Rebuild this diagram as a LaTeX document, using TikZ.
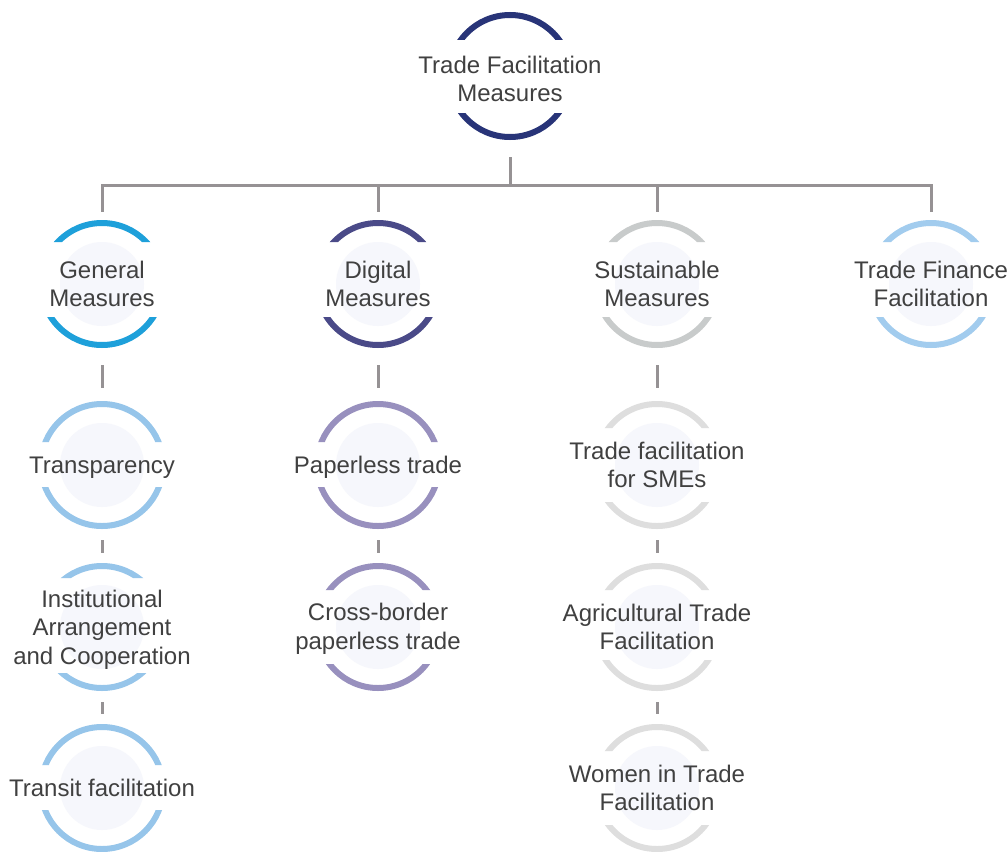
\documentclass[tikz,border=0pt]{standalone}
\usepackage{fontspec}
\setmainfont{Liberation Sans}
\usetikzlibrary{calc}

\definecolor{navy}{RGB}{40,52,120}
\definecolor{genblue}{RGB}{30,160,218}
\definecolor{digpurple}{RGB}{74,74,136}
\definecolor{susgray}{RGB}{200,203,203}
\definecolor{finblue}{RGB}{162,204,238}
\definecolor{kidblue}{RGB}{150,197,234}
\definecolor{kidpurple}{RGB}{152,144,190}
\definecolor{kidgray}{RGB}{222,222,222}
\definecolor{core}{RGB}{246,247,252}
\definecolor{txt}{RGB}{64,64,64}
\definecolor{lnk}{RGB}{150,146,148}

\tikzset{
  lbl/.style={align=center, text=txt, inner sep=0pt, font=\fontsize{24}{28.5}\selectfont},
  hub/.style={circle, minimum size=144pt, inner sep=0pt},
  conn/.style={draw=lnk, line width=3pt},
}

% [#1] label options, #2 name, #3 centre, #4 ring colour, #5 gap above centre,
% #6 gap below centre, #7 core colour, #8 label
\newcommand\tfnode[8][]{%
  \node[hub] (#2) at (#3) {};
  \fill[#7] (#2.center) circle (42pt);
  \begin{scope}
    \clip ($(#2.center)+(-75,-75)$) rectangle ($(#2.center)+(75,-#5)$)
          ($(#2.center)+(-75,#6)$) rectangle ($(#2.center)+(75,75)$);
    \draw[#4, line width=6pt] (#2.center) circle (61pt);
  \end{scope}
  \node[lbl, #1] (#2-t) at (#2.center) {#8};
}

\begin{document}
\begin{tikzpicture}[x=1pt, y=-1pt]
  \fill[white] (0,0) rectangle (1008,851);
  \useasboundingbox (0,0) rectangle (1008,851);

  % root
  \tfnode[yshift=-3pt]{tfm}{510,76}{navy}{36}{37}{white}{Trade Facilitation\\Measures}

  % first level
  \tfnode{gen}{102,284}{genblue}{42}{33}{core}{General\\Measures}
  \tfnode{dig}{378,284}{digpurple}{42}{33}{core}{Digital\\Measures}
  \tfnode{sus}{657,284}{susgray}{42}{33}{core}{Sustainable\\Measures}
  \tfnode{fin}{931,284}{finblue}{42}{33}{core}{Trade Finance\\Facilitation}

  % general measures
  \tfnode[yshift=-2.5pt]{trn}{102,465}{kidblue}{23}{22}{core}{Transparency}
  \tfnode[yshift=-2.5pt]{ins}{102,627}{kidblue}{49}{46}{core}{Institutional\\Arrangement\\and Cooperation}
  \tfnode{tra}{102,788}{kidblue}{23}{22}{core}{Transit facilitation}

  % digital measures
  \tfnode[yshift=-2pt]{ppl}{378,465}{kidpurple}{23}{22}{core}{Paperless trade}
  \tfnode[yshift=-2pt]{cbp}{378,627}{kidpurple}{37}{37}{core}{Cross-border\\paperless trade}

  % sustainable measures
  \tfnode{sme}{657,465}{kidgray}{37}{37}{core}{Trade facilitation\\for SMEs}
  \tfnode{agr}{657,627}{kidgray}{37}{33}{core}{Agricultural Trade\\Facilitation}
  \tfnode{wom}{657,788}{kidgray}{37}{37}{core}{Women in Trade\\Facilitation}

  % tree connectors
  \coordinate (bar) at (510,185);
  \draw[conn, shorten <=9pt] (tfm.south) -- (bar);
  \draw[conn] (gen.north) -- (gen.north |- bar) -- (fin.north |- bar) -- (fin.north);
  \draw[conn] (dig.north) -- (dig.north |- bar);
  \draw[conn] (sus.north) -- (sus.north |- bar);

  \draw[conn, shorten <=9pt, shorten >=5pt] (gen) -- (trn);
  \draw[conn, shorten <=3pt, shorten >=2pt] (trn) -- (ins);
  \draw[conn, shorten <=3pt, shorten >=2pt] (ins) -- (tra);

  \draw[conn, shorten <=9pt, shorten >=5pt] (dig) -- (ppl);
  \draw[conn, shorten <=3pt, shorten >=2pt] (ppl) -- (cbp);

  \draw[conn, shorten <=9pt, shorten >=5pt] (sus) -- (sme);
  \draw[conn, shorten <=3pt, shorten >=2pt] (sme) -- (agr);
  \draw[conn, shorten <=3pt, shorten >=2pt] (agr) -- (wom);
\end{tikzpicture}
\end{document}
